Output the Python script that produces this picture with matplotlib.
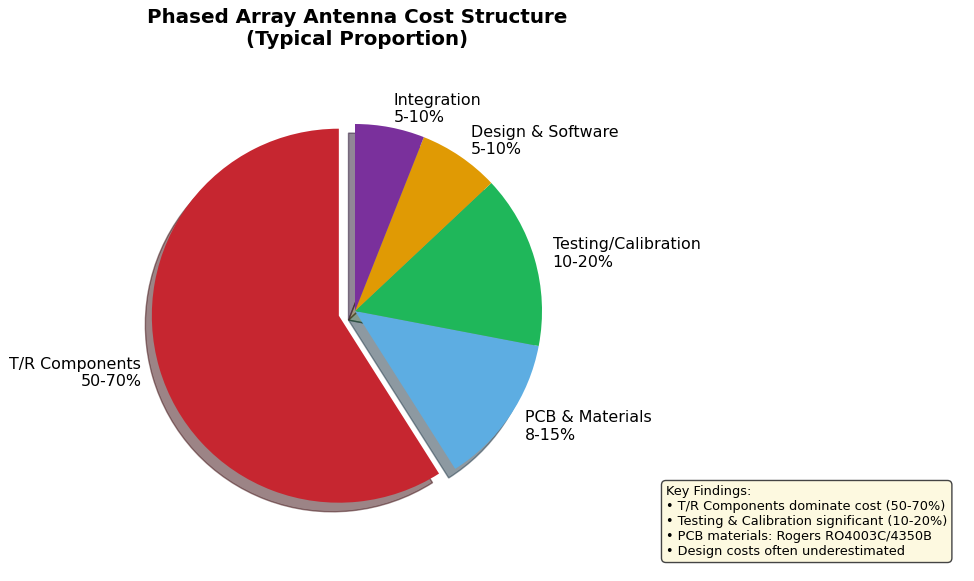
import matplotlib
matplotlib.use("Agg")
import matplotlib.pyplot as plt

categories = ["T/R Components\n50-70%", "PCB & Materials\n8-15%",
              "Testing/Calibration\n10-20%", "Design & Software\n5-10%",
              "Integration\n5-10%"]
shares = [59, 13, 15, 7, 6]
colors = ["#c62630", "#5dade2", "#1fb75a", "#e09a04", "#7a309c"]
explode = [0.09, 0, 0, 0, 0]
title = "Phased Array Antenna Cost Structure\n(Typical Proportion)"
findings = ("Key Findings:\n"
            "\u2022 T/R Components dominate cost (50-70%)\n"
            "\u2022 Testing & Calibration significant (10-20%)\n"
            "\u2022 PCB materials: Rogers RO4003C/4350B\n"
            "\u2022 Design costs often underestimated")

W, H = 974, 581
fig = plt.figure(figsize=(W / 100, H / 100), dpi=100)
R = 187.0
cx, cy = 355.0, 311.0
lim = 1.4
side = 2 * lim * R
ax = fig.add_axes([(cx - side / 2) / W, (H - cy - side / 2) / H, side / W, side / H])
ax.pie(shares, labels=categories, colors=colors, explode=explode,
       startangle=90, counterclock=True,
       shadow={"ox": -0.025, "oy": -0.035},
       textprops={"fontsize": 11.4})
ax.set_xlim(-lim, lim)
ax.set_ylim(-lim, lim)
ax.set_aspect("equal")
ax.axis("off")

fig.text(357 / W, 1 - 8 / H, title, ha="center", va="top", fontsize=14.3,
         fontweight="bold", multialignment="center")

fig.text(666 / W, 1 - 485 / H, findings, ha="left", va="top", fontsize=9.3,
         bbox=dict(boxstyle="round,pad=0.35", facecolor="#fdf9e0",
                   edgecolor="#444444", linewidth=1))

fig.savefig("out.png", dpi=100)
